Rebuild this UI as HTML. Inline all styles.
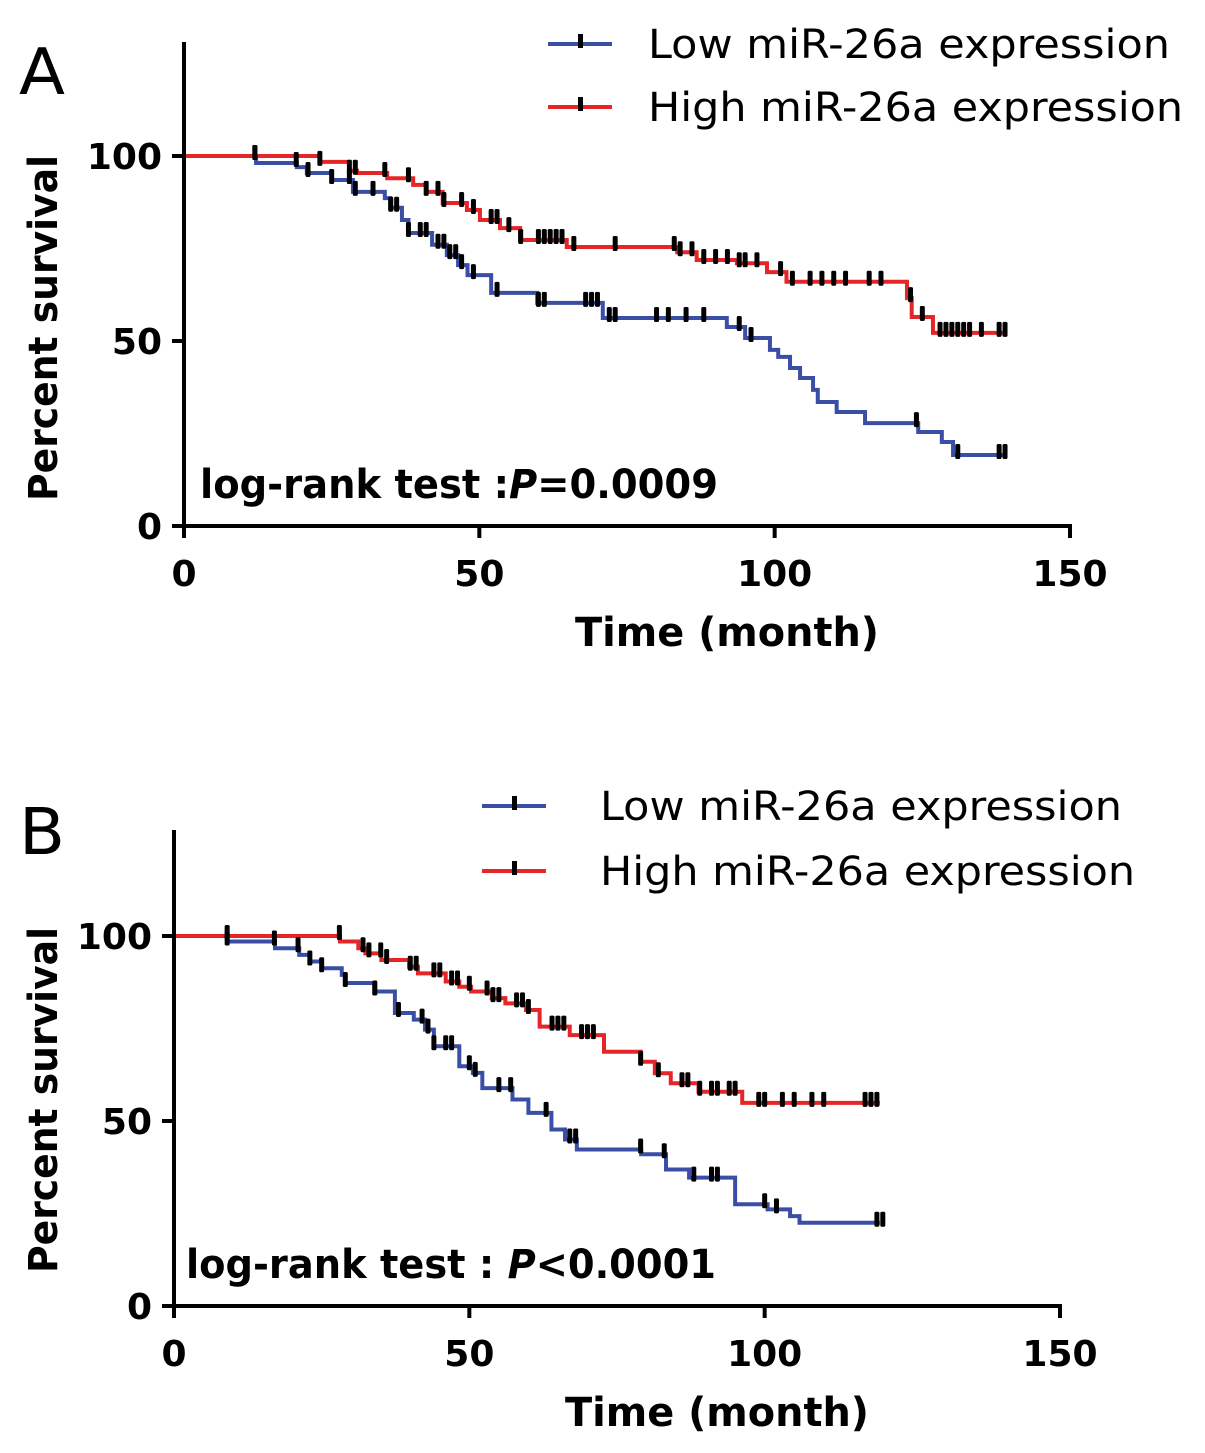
<!DOCTYPE html>
<html><head><meta charset="utf-8"><style>
body{margin:0;background:#fff;}
svg{display:block;font-family:"DejaVu Sans","Liberation Sans",sans-serif;}
</style></head><body>
<svg id="chart" width="1205" height="1453" viewBox="0 0 1205 1453"></svg>
<script>
// ---- Panel A data ----
const aLowTimes=[0,12.2,19.1,20.8,25,28.6,34,34.9,36.9,38,42,44.5,46.4,48,52,59.8,70.9,91.9,95,99.2,100.6,102.6,104.3,106.5,107.3,110.5,115.3,124.3,128.3,130.2];
const aLowSurv=[100,98.1,97,95.4,93.5,90.3,88.6,86,82.7,79.2,76,73.2,70.5,67.8,63,60.3,56.2,53.8,50.8,47.6,45.7,42.7,40,36.8,33.5,30.8,27.8,25.4,22.7,19.2];
const aHighTimes=[0,23,28,29.3,34.4,38.8,41,43.8,47.9,50.1,53.5,56.9,64.8,83.5,86.8,93.6,98.7,102,122.4,123.2,126.8];
const aHighSurv=[100,98.4,96,95.4,94,92.2,90.3,87.3,85.4,82.7,80.5,77.3,75.4,74,71.9,71,68.6,66,61.6,56.5,52.2];
const aLowCensor=[12,19,21,25,28,29,32,35,36,38,40,41,43,44,45,46,47,49,53,60,61,68,69,70,72,73,80,82,85,88,94,96,124,131,138,139];
const aHighCensor=[12,23,28,29,34,38,41,43,44,47,49,52,53,55,57,60,61,62,63,64,66,73,83,84,86,88,90,92,94,95,97,101,103,106,108,110,112,116,118,123,125,128,129,130,131,132,133,135,138,139];
const aEnd=139;
// ---- Panel B data ----
const bLowTimes=[0,9,17.1,21.2,23,25,28.4,29,33.9,37.4,40.6,42.5,44,48.3,50.6,52.2,57.3,60,63.9,66.2,68.2,79.1,83.3,87.2,95,100.5,104.3,105.9];
const bLowSurv=[100,98.5,96.7,94.9,93.1,91.3,89.5,87.3,85,79.2,77.4,74.7,70.2,64.8,63,58.9,55.8,52.2,47.7,45,42.3,41,36.9,34.7,27.5,26.1,24.3,22.5];
const bHighTimes=[0,28.1,31.2,32.4,35.1,39.8,41.3,46,48.3,50.3,53.8,56.1,59.6,61.9,67,72.8,79,81.4,84.1,88.8,96.2];
const bHighSurv=[100,98.5,96.7,95.3,93.5,91.7,89.9,87.7,86.3,85,83.2,81.8,80,75.5,73.2,68.7,66,62.9,60.2,57.9,54.9];
const bLowCensor=[9,17,21,23,25,29,34,38,42,43,44,46,47,50,51,55,57,63,67,68,79,83,88,91,92,100,102,119,120];
const bHighCensor=[9,28,32,33,35,36,40,41,44,45,47,48,50,53,54,55,58,59,60,64,65,66,69,70,71,79,82,86,87,89,91,92,94,95,99,100,103,105,108,110,117,118,119];
const bEnd=119.5;
const xTicks=[0,50,100,150];
const yTicks=[0,50,100];

const NS="http://www.w3.org/2000/svg";
const svg=document.getElementById('chart');
function mk(tag,attrs,parent,text){const e=document.createElementNS(NS,tag);for(const k in attrs)e.setAttribute(k,attrs[k]);if(text!==undefined)e.textContent=text;(parent||svg).appendChild(e);return e;}
const BLUE="#3b4ea6",RED="#e52629";

function panel(cfg){
  const g=mk('g',{});
  
  
  const X=t=>cfg.x0+t*(cfg.x150-cfg.x0)/150;
  const Y=s=>cfg.y0-s*(cfg.y0-cfg.y100)/100;
  const L=mk('text',{x:cfg.letterX,y:cfg.letterY,'font-size':64,textLength:46,lengthAdjust:'spacingAndGlyphs'},g,cfg.letter);
  
  
  function curve(times,surv,end,color,name){
    let d='M'+X(times[0])+','+Y(surv[0]);
    for(let i=1;i<times.length;i++){d+=' H'+X(times[i])+' V'+Y(surv[i]);}
    d+=' H'+X(end);
    const p=mk('path',{d:d,fill:'none',stroke:color,'stroke-width':4},g);
    
    
  }
  function censor(times,stimes,surv,name){
    times.forEach(t=>{
      let s=surv[0];for(let i=0;i<stimes.length;i++){if(stimes[i]<=t)s=surv[i];}
      const r=mk('rect',{x:X(t)-2.5,y:Y(s)-11,width:5,height:15,rx:1.5,fill:'#000'},g);
      
      
    });
  }
  curve(cfg.lowT,cfg.lowS,cfg.end,BLUE,'low-expression');
  curve(cfg.highT,cfg.highS,cfg.end,RED,'high-expression');
  censor(cfg.lowC,cfg.lowT,cfg.lowS,'low-expression');
  censor(cfg.highC,cfg.highT,cfg.highS,'high-expression');
  const ya=mk('line',{x1:cfg.x0,y1:cfg.yTop,x2:cfg.x0,y2:cfg.y0+2,stroke:'#000','stroke-width':4},g);
  
  const xa=mk('line',{x1:cfg.x0-2,y1:cfg.y0,x2:cfg.x150+2,y2:cfg.y0,stroke:'#000','stroke-width':4},g);
  
  yTicks.forEach(v=>{
    mk('line',{x1:cfg.x0-12,y1:Y(v),x2:cfg.x0,y2:Y(v),stroke:'#000','stroke-width':4},g);
    const t=mk('text',{x:cfg.x0-22,y:Y(v)+13,'font-size':36,'font-weight':'bold','text-anchor':'end'},g,String(v));
    
  });
  xTicks.forEach(v=>{
    mk('line',{x1:X(v),y1:cfg.y0,x2:X(v),y2:cfg.y0+12,stroke:'#000','stroke-width':4},g);
    const t=mk('text',{x:X(v),y:cfg.y0+60,'font-size':36,'font-weight':'bold','text-anchor':'middle'},g,String(v));
    
  });
  const yt=mk('text',{x:0,y:0,'font-size':40,'font-weight':'bold','text-anchor':'middle',textLength:346,lengthAdjust:'spacingAndGlyphs',transform:'translate('+(cfg.ytX)+','+(cfg.ytY)+') rotate(-90)'},g,'Percent survival');
  
  const xt=mk('text',{x:cfg.xtX,y:cfg.y0+120,'font-size':40,'font-weight':'bold','text-anchor':'middle',textLength:304,lengthAdjust:'spacingAndGlyphs'},g,'Time  (month)');
  
  const lr=mk('text',{x:cfg.lrX,y:cfg.y0-28,'font-size':40,'font-weight':'bold',textLength:cfg.lrW,lengthAdjust:'spacingAndGlyphs'},g);
  
  mk('tspan',{},lr,cfg.lrPre);
  mk('tspan',{'font-style':'italic'},lr,'P');
  mk('tspan',{},lr,cfg.lrPost);
  [['Low miR-26a expression',BLUE,cfg.legY1,522],['High miR-26a expression',RED,cfg.legY2,535]].forEach(([lab,col,y,w])=>{
    const lg=mk('g',{},g);
    
    mk('line',{x1:cfg.legX1,y1:y,x2:cfg.legX1+64,y2:y,stroke:col,'stroke-width':4},lg);
    mk('rect',{x:cfg.legX1+30,y:y-10,width:5,height:14,fill:'#000'},lg);
    mk('text',{x:cfg.legTX,y:y+14,'font-size':40,textLength:w,lengthAdjust:'spacingAndGlyphs'},lg,lab);
  });
}
panel({name:'panel-a',letter:'A',letterX:19,letterY:94,x0:184,x150:1070,y0:526,y100:156,yTop:42,
  lowT:aLowTimes,lowS:aLowSurv,highT:aHighTimes,highS:aHighSurv,lowC:aLowCensor,highC:aHighCensor,end:aEnd,
  ytX:57,ytY:328,xtX:727,
  lrX:200,lrW:518,lrPre:'log-rank test :',lrPost:'=0.0009',legX1:548,legTX:648,legY1:44,legY2:107});
panel({name:'panel-b',letter:'B',letterX:19,letterY:854,x0:174,x150:1060,y0:1306,y100:936,yTop:830,
  lowT:bLowTimes,lowS:bLowSurv,highT:bHighTimes,highS:bHighSurv,lowC:bLowCensor,highC:bHighCensor,end:bEnd,
  ytX:57,ytY:1100,xtX:717,
  lrX:186,lrW:530,lrPre:'log-rank test : ',lrPost:'<0.0001',legX1:482,legTX:600,legY1:806,legY2:871});
</script>
</body></html>
